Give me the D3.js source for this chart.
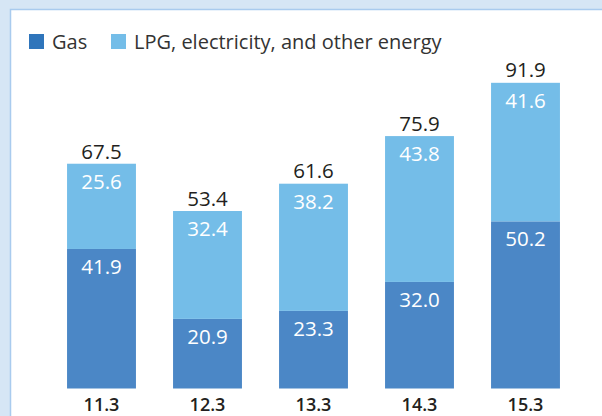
<!DOCTYPE html>
<html>
<head>
<meta charset="utf-8">
<script src="https://cdn.jsdelivr.net/npm/d3@7"></script>
<style>
  html, body { margin: 0; padding: 0; background: #d6e6f5; }
  svg { display: block; }
  text { font-family: "Open Sans", "Noto Sans", sans-serif; }
</style>
</head>
<body>
<svg id="chart" width="602" height="416"></svg>
<script>
// Fiscal-year periods and energy values
const categories = ["11.3", "12.3", "13.3", "14.3", "15.3"];
const gasValues = [41.9, 20.9, 23.3, 32.0, 50.2];
const otherValues = [25.6, 32.4, 38.2, 43.8, 41.6];
const totalValues = [67.5, 53.4, 61.6, 75.9, 91.9];
const seriesNames = ["Gas", "LPG, electricity, and other energy"];

const colors = { gas: "#4b87c6", other: "#74bde8", legendGas: "#2f75bb" };

const svg = d3.select("#chart");

// white panel with a light blue frame
svg.append("rect")
  .attr("x", 10.5).attr("y", 9.5)
  .attr("width", 620).attr("height", 430)
  .attr("fill", "#ffffff")
  .attr("stroke", "#a9cbee")
  .attr("stroke-width", 1.5);

const x = d3.scaleBand()
  .domain(categories)
  .range([48.5, 578.5])
  .paddingInner(0.35)
  .paddingOuter(0.175);

const y = d3.scaleLinear().domain([0, 100]).range([388.5, 55.5]);

const rows = categories.map((c, i) => ({
  cat: c, gas: gasValues[i], other: otherValues[i], total: totalValues[i]
}));

const stack = d3.stack().keys(["gas", "other"])(rows);

const g = svg.append("g");

g.selectAll("g.layer")
  .data(stack)
  .join("g")
  .attr("class", "layer")
  .attr("fill", d => colors[d.key])
  .selectAll("rect")
  .data(d => d)
  .join("rect")
  .attr("x", d => x(d.data.cat))
  .attr("y", d => y(d[1]))
  .attr("width", x.bandwidth())
  .attr("height", d => y(d[0]) - y(d[1]));

// segment values, written at the top of each segment
stack.forEach(layer => {
  g.selectAll(null)
    .data(layer)
    .join("text")
    .attr("x", d => x(d.data.cat) + x.bandwidth() / 2)
    .attr("y", d => y(d[1]) + 25)
    .attr("text-anchor", "middle")
    .attr("fill", "#ffffff")
    .attr("font-size", 20.5)
    .text(d => (d[1] - d[0]).toFixed(1));
});

// totals above bars
g.selectAll("text.total")
  .data(rows)
  .join("text")
  .attr("class", "total")
  .attr("x", d => x(d.cat) + x.bandwidth() / 2)
  .attr("y", d => y(d.total) - 5)
  .attr("text-anchor", "middle")
  .attr("fill", "#231f20")
  .attr("font-size", 20.5)
  .text(d => d.total.toFixed(1));

// category axis
const axis = svg.append("g")
  .attr("transform", "translate(0,388)")
  .call(d3.axisBottom(x).tickSize(0).tickPadding(10));
axis.select(".domain").remove();
axis.selectAll("text")
  .attr("font-size", 18)
  .attr("font-weight", 600)
  .attr("fill", "#231f20")
  .attr("font-family", "'Open Sans', 'Noto Sans', sans-serif");

// legend
const legend = svg.append("g");
const legendItems = [
  { name: seriesNames[0], color: colors.legendGas, x: 29 },
  { name: seriesNames[1], color: colors.other, x: 111 }
];
legendItems.forEach(it => {
  legend.append("rect")
    .attr("x", it.x).attr("y", 34)
    .attr("width", 15).attr("height", 15)
    .attr("fill", it.color);
  legend.append("text")
    .attr("x", it.x + 23).attr("y", 49)
    .attr("font-size", 20)
    .attr("fill", "#333333")
    .text(it.name);
});
</script>
</body>
</html>
